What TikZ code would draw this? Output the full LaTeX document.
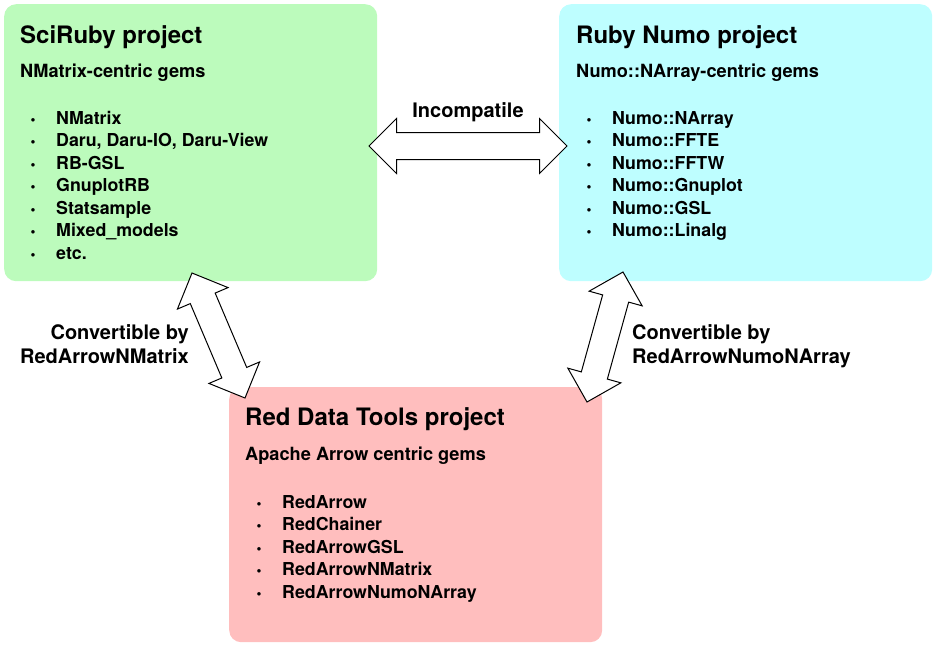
\documentclass[tikz,border=0pt]{standalone}
\usepackage{fontspec}
\setmainfont{TeX Gyre Heros}
\usetikzlibrary{shapes.arrows,calc}
\definecolor{sciGreen}{RGB}{188,251,188}
\definecolor{numoCyan}{RGB}{190,254,255}
\definecolor{redPink}{RGB}{255,190,190}
\tikzset{
  projbox/.style={rounded corners=12pt, inner sep=0pt, anchor=north west},
  txt/.style={anchor=base west, inner sep=0pt, font=\bfseries\fontsize{17.8}{21}\selectfont},
  sub/.style={anchor=base west, inner sep=0pt, font=\bfseries\fontsize{18.2}{22}\selectfont},
  lbl/.style={anchor=base west, inner sep=0pt, font=\bfseries\fontsize{20}{24}\selectfont},
  ttl/.style={anchor=base west, inner sep=0pt, font=\bfseries\fontsize{24}{28}\selectfont},
  bul/.style={anchor=base, inner sep=0pt, font=\bfseries\fontsize{14}{16}\selectfont},
  dblarrow/.style={double arrow, draw, fill=white, line width=1pt, inner xsep=0pt, inner ysep=13pt,
    double arrow head extend=14pt, double arrow tip angle=90},
}
\newcommand\convarrow[3]{%
  \path let \p1=(#1), \p2=(#2), \n1={atan2(\y2-\y1,\x2-\x1)}, \n2={veclen(\x2-\x1,\y2-\y1)} in
    node[dblarrow, minimum height=\n2, rotate=\n1] (#3) at ($(#1)!0.5!(#2)$) {};}
\begin{document}
\begin{tikzpicture}[x=1pt,y=-1pt]
	\useasboundingbox (0,0) rectangle (937,646);
	% project boxes
	\node[projbox, fill=sciGreen, minimum width=373pt, minimum height=277pt] (sci) at (4,4) {};
	\node[projbox, fill=numoCyan, minimum width=373pt, minimum height=277pt] (numo) at (559,4) {};
	\node[projbox, fill=redPink, minimum width=373pt, minimum height=255pt] (rdt) at (229,387) {};
	% SciRuby
	\node[ttl] (sciTitle) at (20,43) {SciRuby project};
	\node[sub] (sciSub) at (20,77) {NMatrix-centric gems};
	\foreach \g [count=\i from 0] in {NMatrix,{Daru, Daru-IO, Daru-View},RB-GSL,GnuplotRB,Statsample,Mixed\_models,etc.}{
		\node[bul] at (33,124+22.5*\i) {\textbullet};
		\node[txt] (sciItem\i) at (56,124+22.5*\i) {\g};
	}
	% Ruby Numo
	\node[ttl] (numoTitle) at (576,43) {Ruby Numo project};
	\node[sub] (numoSub) at (576,77) {Numo::NArray-centric gems};
	\foreach \g [count=\i from 0] in {Numo::NArray,Numo::FFTE,Numo::FFTW,Numo::Gnuplot,Numo::GSL,Numo::Linalg}{
		\node[bul] at (589,124+22.5*\i) {\textbullet};
		\node[txt] (numoItem\i) at (612,124+22.5*\i) {\g};
	}
	% Red Data Tools
	\node[ttl] (rdtTitle) at (245,425) {Red Data Tools project};
	\node[sub] (rdtSub) at (245,460) {Apache Arrow centric gems};
	\foreach \g [count=\i from 0] in {RedArrow,RedChainer,RedArrowGSL,RedArrowNMatrix,RedArrowNumoNArray}{
		\node[bul] at (259,508+22.5*\i) {\textbullet};
		\node[txt] (rdtItem\i) at (282,508+22.5*\i) {\g};
	}
	% arrows between projects
	\coordinate (incL) at (369,146);
	\coordinate (incR) at (567,146);
	\coordinate (cvLa) at (192,273);
	\coordinate (cvLb) at (245,398);
	\coordinate (cvRa) at (623,272);
	\coordinate (cvRb) at (587,402);
	\convarrow{incL}{incR}{incArrow}
	\convarrow{cvLa}{cvLb}{sciArrow}
	\convarrow{cvRa}{cvRb}{numoArrow}
	\node[lbl, anchor=base] (incLabel) at (468,117) {Incompatile};
	\node[lbl, anchor=base east] (sciLabel1) at (189,339) {Convertible by};
	\node[lbl, anchor=base east] (sciLabel2) at (189,363) {RedArrowNMatrix};
	\node[lbl] (numoLabel1) at (632,339) {Convertible by};
	\node[lbl] (numoLabel2) at (632,363) {RedArrowNumoNArray};
\end{tikzpicture}
\end{document}
